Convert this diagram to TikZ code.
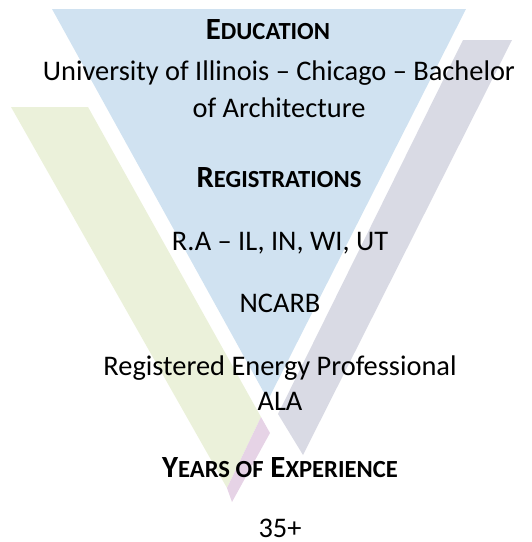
\documentclass[tikz,border=0pt]{standalone}
\usepackage{fontspec}
\setmainfont{Carlito}
\definecolor{bluef}{HTML}{D0E2F1}
\definecolor{greenf}{HTML}{EBF1DA}
\definecolor{grayf}{HTML}{D9DAE4}
\definecolor{pinkf}{HTML}{E6D3E6}
\newcommand\fsc[1]{{\fontsize{24.6pt}{30pt}\selectfont #1}}
\tikzset{
  body/.style={anchor=base, inner sep=0pt, font=\fontsize{28.4pt}{37pt}\selectfont},
  head/.style={anchor=base, inner sep=0pt, font=\fontsize{30.8pt}{37pt}\selectfont\bfseries},
}
\begin{document}
\begin{tikzpicture}[x=1pt,y=-1pt]
\useasboundingbox (0,0) rectangle (532,542);
% background shapes
\fill[greenf] (11,107) -- (88,107) -- (261,417) -- (227,488) -- cycle;
\fill[pinkf] (261,417) -- (270,433) -- (232,502) -- (227,488) -- cycle;
\fill[grayf] (463,40) -- (512,40) -- (303,455) -- (278,414) -- cycle;
\fill[bluef] (52,9) -- (466,9) -- (268,400) -- cycle;
% texts
\node[head] (edu) at (268,39) {E\fsc{DUCATION}};
\node[body] (uni) at (279,80) {University of Illinois – Chicago – Bachelor};
\node[body] (arch) at (279,117) {of Architecture};
\node[head] (reg) at (279,187) {R\fsc{EGISTRATIONS}};
\node[body] (ra) at (280,250) {R.A – IL, IN, WI, UT};
\node[body] (ncarb) at (280,312) {NCARB};
\node[body] (rep) at (280,375) {Registered Energy Professional};
\node[body] (ala) at (280,410) {ALA};
\node[head] (yrs) at (280,477) {Y\fsc{EARS OF} E\fsc{XPERIENCE}};
\node[body] (num) at (280,537) {35+};
\end{tikzpicture}
\end{document}
